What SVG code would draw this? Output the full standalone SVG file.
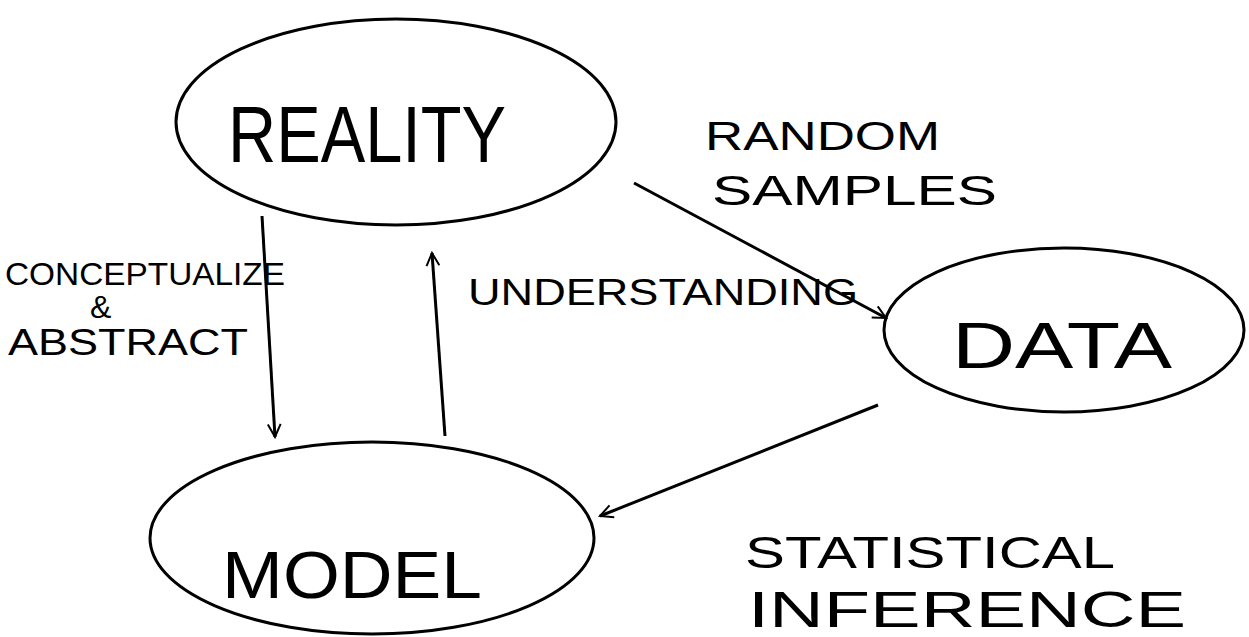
<svg xmlns="http://www.w3.org/2000/svg" width="1249" height="637" viewBox="0 0 1249 637">
<style>
.node{fill:none;stroke:#000;stroke-width:3}
.t{font-family:"Liberation Sans",Arial,sans-serif;fill:#000}
.c{fill:none;stroke:#000;stroke-width:3}
</style>
<defs>
<marker id="ah" viewBox="0 0 20 20" refX="18" refY="10" markerWidth="16" markerHeight="16" markerUnits="userSpaceOnUse" orient="auto">
<path d="M2,2 L18,10 L2,18" fill="none" stroke="#000" stroke-width="2.5"/>
</marker>
</defs>
<rect width="1249" height="637" fill="#fff"/>
<g id="reality">
<ellipse class="node" cx="396" cy="122" rx="220" ry="103"/>
<text class="t" x="228" y="162" font-size="80" textLength="278" lengthAdjust="spacingAndGlyphs">REALITY</text>
</g>
<g id="data">
<ellipse class="node" cx="1064" cy="330" rx="180" ry="82"/>
<text class="t" x="952" y="368" font-size="64" textLength="220" lengthAdjust="spacingAndGlyphs">DATA</text>
</g>
<g id="model">
<ellipse class="node" cx="372" cy="538" rx="222" ry="96"/>
<text class="t" x="222" y="598" font-size="66" textLength="260" lengthAdjust="spacingAndGlyphs">MODEL</text>
</g>
<g id="connectors">
<path class="c" d="M262,216 L275,437" marker-end="url(#ah)"/>
<path class="c" d="M445,436 L432,253" marker-end="url(#ah)"/>
<path class="c" d="M634,183 L886,318" marker-end="url(#ah)"/>
<path class="c" d="M878,405 L600,516" marker-end="url(#ah)"/>
</g>
<g id="labels">
<text class="t" x="705" y="150" font-size="40" textLength="235" lengthAdjust="spacingAndGlyphs">RANDOM</text>
<text class="t" x="712" y="205" font-size="42" textLength="285" lengthAdjust="spacingAndGlyphs">SAMPLES</text>
<text class="t" x="5" y="285" font-size="32" textLength="280" lengthAdjust="spacingAndGlyphs">CONCEPTUALIZE</text>
<text class="t" x="90" y="318" font-size="32">&amp;</text>
<text class="t" x="8" y="355" font-size="36" textLength="240" lengthAdjust="spacingAndGlyphs">ABSTRACT</text>
<text class="t" x="468" y="305" font-size="36" textLength="390" lengthAdjust="spacingAndGlyphs">UNDERSTANDING</text>
<text class="t" x="745" y="568" font-size="44" textLength="370" lengthAdjust="spacingAndGlyphs">STATISTICAL</text>
<text class="t" x="748" y="627" font-size="50" textLength="438" lengthAdjust="spacingAndGlyphs">INFERENCE</text>
</g>
</svg>
